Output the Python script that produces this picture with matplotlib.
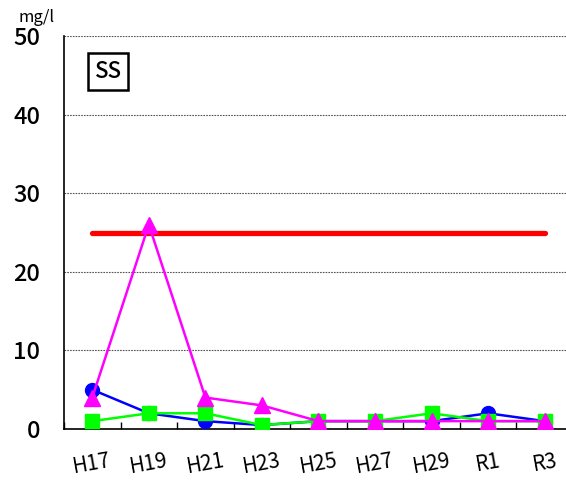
import numpy as np
import matplotlib.pyplot as plt

plt.rcParams['font.family'] = ['Noto Sans CJK JP', 'DejaVu Sans']

years = ['H17', 'H19', 'H21', 'H23', 'H25', 'H27', 'H29', 'R1', 'R3']
blue_vals = [5, 2, 1, 0.5, 1, 1, 1, 2, 1]
green_vals = [1, 2, 2, 0.5, 1, 1, 2, 1, 1]
magenta_vals = [4, 26, 4, 3, 1, 1, 1, 1, 1]
limit_vals = [25] * len(years)

x = np.arange(len(years))

fig = plt.figure(figsize=(5.66, 4.82), dpi=100)
ax = fig.add_axes([64 / 566, 53 / 482, 509 / 566, 393 / 482])

ax.plot(x, limit_vals, color='#ff0000', lw=3.8, solid_capstyle='round', zorder=2)
ax.plot(x, blue_vals, color='#0000ff', lw=1.8, marker='o', ms=10, zorder=3)
ax.plot(x, green_vals, color='#00ff00', lw=1.8, marker='s', ms=10, zorder=4)
ax.plot(x, magenta_vals, color='#ff00ff', lw=1.8, marker='^', ms=11, zorder=5)

ax.set_xlim(-0.5, len(years) - 0.5)
ax.set_ylim(0, 50)
ax.set_yticks([0, 10, 20, 30, 40, 50])
ax.yaxis.grid(True, color='#555555', linestyle=(0, (1.5, 1)), lw=0.8)
ax.set_axisbelow(True)
ax.tick_params(axis='y', length=0, labelsize=17, pad=17)
for lab in ax.get_yticklabels():
    lab.set_fontweight('medium')

ax.set_xticks(x)
ax.set_xticklabels(years, rotation=10, fontsize=15)
ax.set_xticks(np.arange(-0.5, len(years)), minor=True)
ax.tick_params(axis='x', which='major', length=0, pad=15)
ax.tick_params(axis='x', which='minor', direction='in', length=5, width=1)

for s in ['top', 'right']:
    ax.spines[s].set_visible(False)
ax.spines['left'].set_linewidth(1.2)
ax.spines['bottom'].set_linewidth(1.2)

ax.text(0.087, 0.91, 'SS', transform=ax.transAxes, fontsize=16, fontweight='medium',
        va='center', ha='center',
        bbox=dict(boxstyle='square,pad=0.3', fc='white', ec='black', lw=1.8))
fig.text(18 / 566, 1 - 17 / 482, 'mg/l', fontsize=12, va='center', ha='left')

fig.savefig('out.png', dpi=100)
